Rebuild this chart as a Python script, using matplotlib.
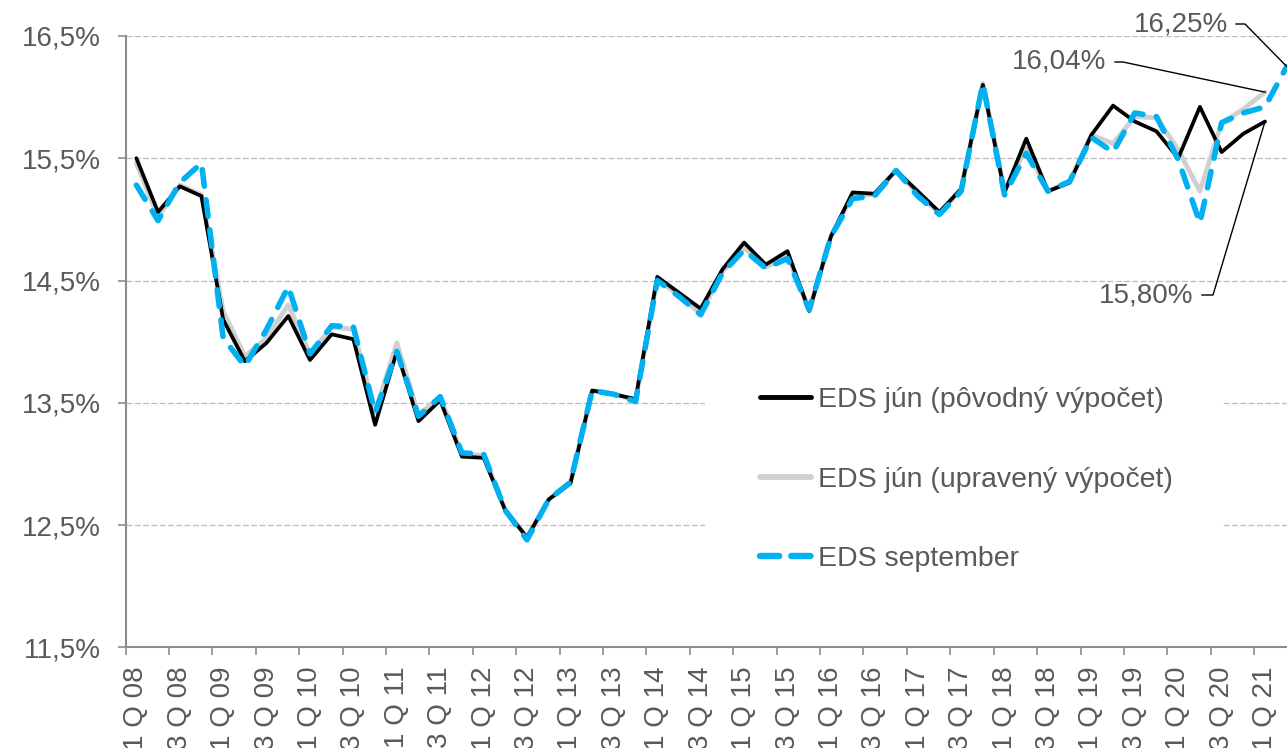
import matplotlib
matplotlib.use("Agg")
import matplotlib.pyplot as plt
from matplotlib.patches import Rectangle
from matplotlib.lines import Line2D

plt.rcParams['font.family'] = ['Liberation Sans', 'DejaVu Sans']

# ---- data -------------------------------------------------------------
tick_labels = ["1 Q 08", "3 Q 08", "1 Q 09", "3 Q 09", "1 Q 10", "3 Q 10",
               "1 Q 11", "3 Q 11", "1 Q 12", "3 Q 12", "1 Q 13", "3 Q 13",
               "1 Q 14", "3 Q 14", "1 Q 15", "3 Q 15", "1 Q 16", "3 Q 16",
               "1 Q 17", "3 Q 17", "1 Q 18", "3 Q 18", "1 Q 19", "3 Q 19",
               "1 Q 20", "3 Q 20", "1 Q 21"]
n_quarters = 54  # 1Q08 .. 2Q21

eds_jun_povodny = [15.50, 15.06, 15.27, 15.19, 14.18, 13.84, 13.99, 14.21, 13.85, 14.06,
                   14.02, 13.32, 13.92, 13.35, 13.52, 13.06, 13.05, 12.62, 12.40, 12.71,
                   12.84, 13.60, 13.57, 13.53, 14.53, 14.40, 14.27, 14.59, 14.81, 14.63,
                   14.74, 14.25, 14.86, 15.22, 15.21, 15.40, 15.23, 15.06, 15.25, 16.10,
                   15.22, 15.66, 15.23, 15.30, 15.69, 15.93, 15.80, 15.72, 15.50, 15.92,
                   15.55, 15.70, 15.80]
eds_jun_upraveny = [15.46, 15.02, 15.28, 15.20, 14.25, 13.88, 14.03, 14.30, 13.90, 14.12,
                    14.10, 13.42, 13.99, 13.40, 13.55, 13.08, 13.07, 12.62, 12.40, 12.71,
                    12.85, 13.60, 13.57, 13.52, 14.51, 14.38, 14.23, 14.57, 14.77, 14.61,
                    14.70, 14.26, 14.86, 15.20, 15.20, 15.40, 15.21, 15.05, 15.24, 16.11,
                    15.24, 15.58, 15.23, 15.31, 15.69, 15.62, 15.84, 15.83, 15.57, 15.23,
                    15.79, 15.90, 16.04]
eds_september = [15.28, 14.99, 15.30, 15.46, 14.03, 13.80, 14.10, 14.45, 13.90, 14.13,
                 14.12, 13.42, 13.92, 13.39, 13.55, 13.09, 13.08, 12.62, 12.38, 12.71,
                 12.85, 13.60, 13.57, 13.51, 14.50, 14.37, 14.22, 14.56, 14.75, 14.60,
                 14.68, 14.26, 14.86, 15.17, 15.19, 15.40, 15.19, 15.04, 15.23, 16.11,
                 15.20, 15.54, 15.23, 15.31, 15.67, 15.55, 15.87, 15.84, 15.49, 14.97,
                 15.79, 15.87, 15.92, 16.25]

y_ticks = [11.5, 12.5, 13.5, 14.5, 15.5, 16.5]
y_tick_labels = ["11,5%", "12,5%", "13,5%", "14,5%", "15,5%", "16,5%"]

legend_labels = ["EDS jún (pôvodný výpočet)", "EDS jún (upravený výpočet)", "EDS september"]

# ---- figure -----------------------------------------------------------
W, H = 1287, 748
fig = plt.figure(figsize=(W / 100, H / 100), dpi=100)
left_px, right_px = 125.5, 125.5 + n_quarters * 21.705
top_px, bottom_px = 35.9, 647.4
ax = fig.add_axes([left_px / W, 1 - bottom_px / H,
                   (right_px - left_px) / W, (bottom_px - top_px) / H])

TXT = '#595959'
AXC = '#8c8c8c'
GRID = '#bfbfbf'
FS = 20
FS_LEG = 20.5
BLUE = '#00b0f0'
LGRAY = '#d0d0d0'
LW_K, LW_G, LW_B = 2.7, 3.5, 4.0
BLUE_DASH = (3.0, 2.45)

x_all = list(range(n_quarters))
ax.plot(x_all[:len(eds_jun_upraveny)], eds_jun_upraveny, color=LGRAY, lw=LW_G,
        solid_capstyle='round', solid_joinstyle='round', zorder=3)
ax.plot(x_all[:len(eds_jun_povodny)], eds_jun_povodny, color='black', lw=LW_K,
        solid_capstyle='round', solid_joinstyle='round', zorder=4)
ax.plot(x_all[:len(eds_september)], eds_september, color=BLUE, lw=LW_B,
        dashes=BLUE_DASH, dash_capstyle='round', dash_joinstyle='round', zorder=5)

ax.set_xlim(-0.5, n_quarters - 0.5)
ax.set_ylim(11.5, 16.5)

# y axis
ax.set_yticks(y_ticks)
ax.set_yticklabels(y_tick_labels)
ax.tick_params(axis='y', length=6, width=1.2, color=AXC, pad=12,
               labelsize=FS, labelcolor=TXT)
ax.grid(axis='y', color=GRID, linestyle=(0, (4.5, 1.8)), linewidth=0.95, zorder=0)
ax.set_axisbelow(True)

# x axis: ticks at boundaries, labels at category centres
ax.set_xticks([i - 0.5 for i in range(0, n_quarters, 2)])
ax.set_xticklabels([])
ax.set_xticks(list(range(0, 2 * len(tick_labels), 2)), minor=True)
ax.set_xticklabels(tick_labels, minor=True, rotation=90, fontsize=FS, color=TXT,
                   va='top', ha='center')
ax.tick_params(axis='x', which='major', length=6, width=1.2, color=AXC)
ax.tick_params(axis='x', which='minor', length=0, pad=14)

for s in ['top', 'right']:
    ax.spines[s].set_visible(False)
for s in ['left', 'bottom']:
    ax.spines[s].set_color(AXC)
    ax.spines[s].set_linewidth(1.5)

# legend background (hides gridlines)
def px2data(xp, yp):
    xd = (xp - left_px) / 21.705 - 0.5
    yd = 16.5 - (yp - top_px) / (bottom_px - top_px) * 5.0
    return xd, yd

x0, y0 = px2data(705, 590)
x1, y1 = px2data(1223, 365)
ax.add_patch(Rectangle((x0, y0), x1 - x0, y1 - y0, facecolor='white',
                       edgecolor='none', zorder=1))

handles = [Line2D([], [], color='black', lw=LW_K * 1.3, solid_capstyle='round'),
           Line2D([], [], color=LGRAY, lw=LW_G * 1.2, solid_capstyle='round'),
           Line2D([], [], color=BLUE, lw=LW_B * 1.15, dashes=(3.0, 1.9),
                  dash_capstyle='round')]
leg = fig.legend(handles, legend_labels, loc='upper left',
                 bbox_to_anchor=(760 / W, 1 - 387 / H), frameon=False,
                 fontsize=FS_LEG, labelcolor=TXT, handlelength=1.8,
                 handletextpad=0.22, labelspacing=1.88, borderpad=0,
                 borderaxespad=0)

# annotations
def annot(txt, text_px, elbow_px, xi, yi):
    tx, ty = px2data(*text_px)
    ex0, ey = px2data(elbow_px[0], text_px[1])
    ex1, _ = px2data(elbow_px[1], text_px[1])
    ax.text(tx, ty, txt, ha='right', va='center', fontsize=FS, color=TXT,
            zorder=6, clip_on=False)
    ax.plot([ex0, ex1, xi], [ey, ey, yi], color='black', lw=1.0,
            zorder=6, clip_on=False)

n1 = len(eds_september) - 1
n2 = len(eds_jun_upraveny) - 1
n3 = len(eds_jun_povodny) - 1
annot("16,25%", (1228, 24), (1236, 1245), n1, eds_september[n1])
annot("16,04%", (1106, 62), (1115, 1123), n2, eds_jun_upraveny[n2])
annot("15,80%", (1193, 295), (1202, 1213), n3, eds_jun_povodny[n3])

fig.savefig("out.png", dpi=100)
